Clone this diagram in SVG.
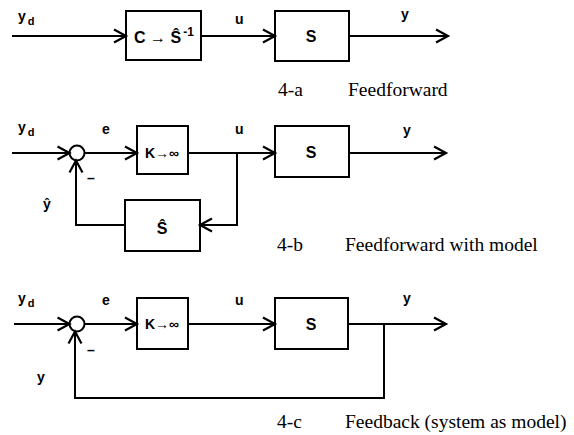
<svg xmlns="http://www.w3.org/2000/svg" width="574" height="435" viewBox="0 0 574 435">
<defs>
<marker id="arr" markerUnits="userSpaceOnUse" markerWidth="16" markerHeight="16" viewBox="0 0 16 16" refX="13" refY="8" orient="auto">
<path d="M1,1.5 L13,8 L1,14.5" fill="none" stroke="#000" stroke-width="2.2"/>
</marker>
</defs>
<style>
.box{fill:#fff;stroke:#000;stroke-width:2}
.ln{fill:none;stroke:#000;stroke-width:2}
.ar{fill:none;stroke:#000;stroke-width:2;marker-end:url(#arr)}
.lb{font-family:"Liberation Sans",Arial,sans-serif;font-size:14px;font-weight:bold;fill:#000}
.bx{font-family:"Liberation Sans",Arial,sans-serif;font-size:16px;font-weight:bold;fill:#000}
.cap{font-family:"Liberation Serif","Times New Roman",serif;font-size:19.5px;fill:#000}
.sub{font-size:11px}
</style>
<rect width="574" height="435" fill="#fff"/>

<!-- Panel a -->
<g id="a-C"><rect class="box" x="126" y="11" width="75" height="49"/>
<text class="bx" x="164" y="43" text-anchor="middle">C → Ŝ<tspan font-size="12" dy="-7" dx="2">-1</tspan></text></g>
<g id="a-S"><rect class="box" x="275" y="11" width="74" height="50"/>
<text class="bx" x="311" y="42" text-anchor="middle">S</text></g>
<g id="a-labels">
<text class="lb" x="18" y="21">y<tspan class="sub" dy="4" dx="2">d</tspan></text>
<text class="lb" x="235" y="24">u</text>
<text class="lb" x="401" y="19">y</text>
<text class="cap" x="278" y="96">4-a</text>
<text class="cap" x="348" y="96">Feedforward</text>
</g>

<!-- Panel b -->
<g id="b-sum"><circle class="ln" cx="77" cy="153" r="7.5"/></g>
<g id="b-K"><rect class="box" x="137" y="126" width="51" height="48"/>
<text class="lb" x="162" y="158" text-anchor="middle">K→∞</text></g>
<g id="b-S"><rect class="box" x="275" y="126" width="74" height="51"/>
<text class="bx" x="311" y="158" text-anchor="middle">S</text></g>
<g id="b-Shat"><rect class="box" x="125" y="200" width="75" height="51"/>
<text class="bx" x="162" y="234" text-anchor="middle">Ŝ</text></g>
<g id="b-labels">
<text class="lb" x="18" y="132">y<tspan class="sub" dy="4" dx="2">d</tspan></text>
<text class="lb" x="102" y="134">e</text>
<text class="lb" x="235" y="134">u</text>
<text class="lb" x="403" y="135">y</text>
<text class="lb" x="43" y="209">ŷ</text>
<text class="lb" x="87" y="183">–</text>
<text class="cap" x="277" y="251">4-b</text>
<text class="cap" x="345" y="251">Feedforward with model</text>
</g>

<!-- Panel c -->
<g id="c-sum"><circle class="ln" cx="77" cy="324" r="7.5"/></g>
<g id="c-K"><rect class="box" x="137" y="298" width="51" height="51"/>
<text class="lb" x="162" y="329" text-anchor="middle">K→∞</text></g>
<g id="c-S"><rect class="box" x="275" y="298" width="73" height="51"/>
<text class="bx" x="311" y="330" text-anchor="middle">S</text></g>
<g id="c-labels">
<text class="lb" x="18" y="303">y<tspan class="sub" dy="4" dx="2">d</tspan></text>
<text class="lb" x="102" y="305">e</text>
<text class="lb" x="235" y="305">u</text>
<text class="lb" x="403" y="303">y</text>
<text class="lb" x="37" y="382">y</text>
<text class="lb" x="87" y="355">–</text>
<text class="cap" x="277" y="428">4-c</text>
<text class="cap" x="345" y="428">Feedback (system as model)</text>
</g>

<g id="connectors">
<path class="ar" d="M12,36 L126,36"/>
<path class="ar" d="M201,36 L275,36"/>
<path class="ar" d="M349,36 L448,36"/>

<path class="ar" d="M12,153 L69.5,153"/>
<path class="ar" d="M84.5,153 L137,153"/>
<path class="ar" d="M188,153 L275,153"/>
<path class="ar" d="M349,153 L446,153"/>
<path class="ar" d="M237,153 L237,225 L200,225"/>
<path class="ar" d="M125,225 L76,225 L76,160.5"/>

<path class="ar" d="M14,324 L69.5,324"/>
<path class="ar" d="M84.5,324 L137,324"/>
<path class="ar" d="M188,324 L275,324"/>
<path class="ar" d="M348,324 L446,324"/>
<path class="ar" d="M384,324 L384,398 L75,398 L75,331.5"/>
</g>
</svg>
